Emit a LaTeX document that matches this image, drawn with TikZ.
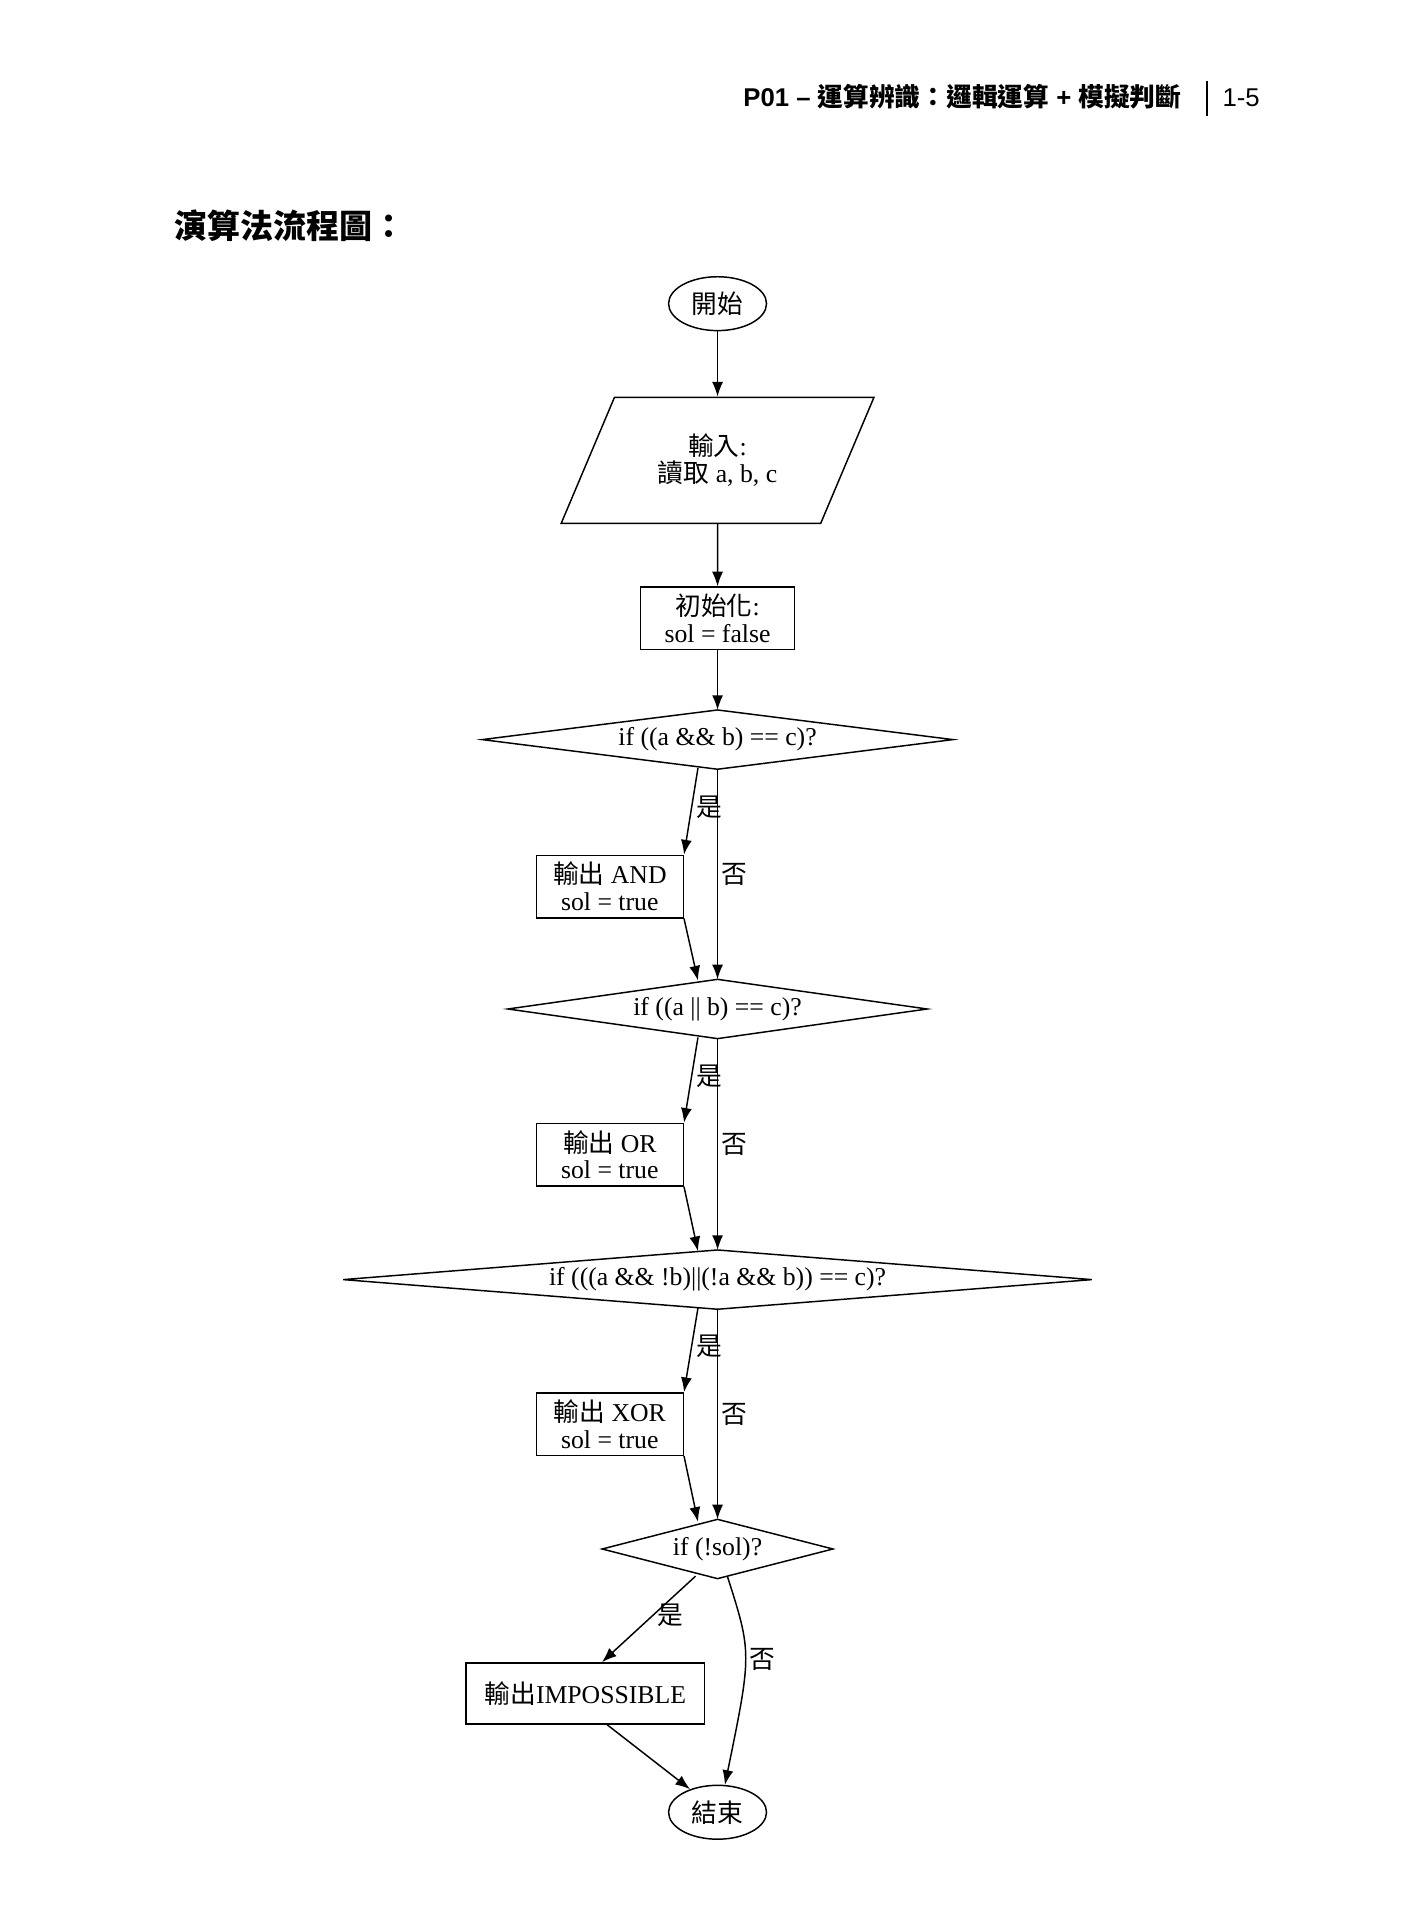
\documentclass[tikz,border=0pt]{standalone}
\usepackage{fontspec}
\setmainfont{Liberation Serif}
\newfontfamily\cjk{Noto Sans CJK TC}
\newfontfamily\hdsans{Liberation Sans}
\usetikzlibrary{shapes.geometric,calc,arrows.meta}
\begin{document}
\begin{tikzpicture}[x=1pt,y=-1pt]
\tikzstyle{term} = [ellipse,draw,line width=1.2pt,minimum width=80pt,minimum height=44pt,inner sep=0pt];
\tikzstyle{io}=[trapezium,trapezium left angle=63.2,trapezium right angle=116.8,trapezium stretches=true,draw,line width=1.2pt,minimum width=256pt,minimum height=103pt];
\tikzstyle{proc}=[rectangle,draw,line width=1.2pt,align=center,minimum height=51pt,inner sep=2pt];
\tikzstyle{dec}=[rectangle,inner sep=0pt,minimum height=48pt];
\tikzstyle{rhomb}=[line width=1.2pt];
\tikzstyle{flow}=[-{Latex[length=12pt,width=9pt]},line width=1.2pt];
\tikzstyle{lbl}=[right,inner sep=3pt,font=\cjk];
\useasboundingbox (0,0) rectangle (1160,1568);
\fontsize{21pt}{22pt}\selectfont
% header
\node [anchor=base east,font=\hdsans\bfseries\fontsize{21pt}{22pt}\selectfont] (head) at (972,87) {P01 – {\cjk\bfseries 運算辨識：邏輯運算} + {\cjk\bfseries 模擬判斷}};
\draw [line width=1.5pt] (986,66) -- (986,95);
\node [anchor=base east,font=\hdsans\fontsize{21pt}{22pt}\selectfont] (page) at (1036,87) {1-5};
\node [anchor=base west,font=\cjk\bfseries\fontsize{27pt}{28pt}\selectfont] (title) at (135,195) {演算法流程圖：};
% flow
\node [term] (start) at (586,248) {\cjk 開始};
\node [io,align=center] (input) at (586,376) {{\cjk 輸入}:\\{\cjk 讀取} a, b, c};
\node [proc,minimum width=126pt] (init) at (586,505) {{\cjk 初始化}:\\sol = false};
\node [dec,minimum width=384pt] (d1) at (586,604) {if ((a \&\& b) == c)?};
\node [proc,minimum width=120pt] (and) at (498,724) {{\cjk 輸出} AND\\sol = true};
\node [dec,minimum width=342pt] (d2) at (586,824) {if ((a || b) == c)?};
\node [proc,minimum width=120pt] (or) at (498,943) {{\cjk 輸出} OR\\sol = true};
\node [dec,minimum width=611pt] (d3) at (586,1045) {if (((a \&\& !b)||(!a \&\& b)) == c)?};
\node [proc,minimum width=120pt] (xor) at (498,1163) {{\cjk 輸出} XOR\\sol = true};
\node [dec,minimum width=188pt] (d4) at (586,1265) {if (!sol)?};
\node [proc,minimum width=195pt,minimum height=50pt] (imp) at (478,1383) {{\cjk 輸出}IMPOSSIBLE};
\node [term] (end) at (586,1480) {\cjk 結束};
\foreach \d in {d1,d2,d3,d4}
  \draw [rhomb] (\d.north) -- (\d.east) -- (\d.south) -- (\d.west) -- cycle;
\draw [flow] (start) -- (input);
\draw [flow] (input) -- (init);
\draw [flow] (init) -- (d1);
\draw [flow] ($(d1.south)+(-16,-1)$) -- node[lbl,pos=.45] {是} (and.north east);
\draw [flow] (d1) -- node[lbl] {否} (d2);
\draw [flow] (and.south east) -- ($(d2.north)+(-16,1)$);
\draw [flow] ($(d2.south)+(-16,-1)$) -- node[lbl,pos=.45] {是} (or.north east);
\draw [flow] (d2) -- node[lbl] {否} (d3);
\draw [flow] (or.south east) -- ($(d3.north)+(-16,1)$);
\draw [flow] ($(d3.south)+(-16,-1)$) -- node[lbl,pos=.45] {是} (xor.north east);
\draw [flow] (d3) -- node[lbl] {否} (d4);
\draw [flow] (xor.south east) -- ($(d4.north)+(-16,2)$);
\draw [flow] ($(d4.south)+(-18,-2)$) -- node[lbl,pos=.45] {是} (imp.62);
\draw [flow] ($(d4.south)+(8,-2)$) .. controls (614,1350) .. node[lbl,pos=.5] {否} (end.75);
\draw [flow] (imp.305) -- (end.140);
\end{tikzpicture}
\end{document}
